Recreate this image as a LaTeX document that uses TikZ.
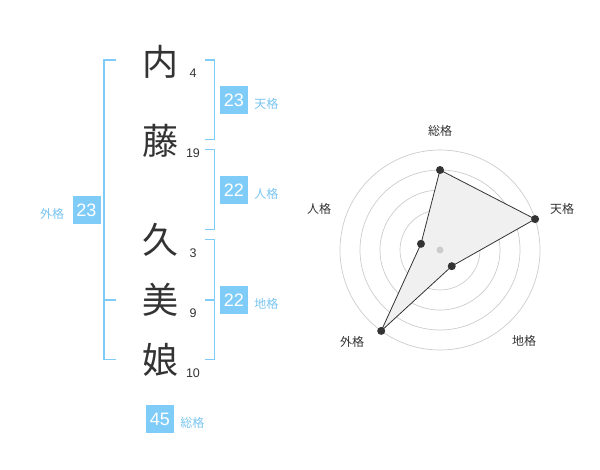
\documentclass[tikz,border=0pt]{standalone}
\usepackage{fontspec}
\setmainfont{Liberation Sans}
\newfontfamily\jp{Noto Sans CJK JP}
\usetikzlibrary{positioning,calc}
\definecolor{kakublue}{RGB}{128,204,248}
\definecolor{kakutext}{RGB}{120,196,240}
\definecolor{ink}{RGB}{51,51,51}
\definecolor{ring}{RGB}{204,204,204}
\definecolor{area}{RGB}{240,240,240}

\begin{document}
\begin{tikzpicture}[
		x=1pt,y=-1pt,
		kanji/.style={inner sep=0pt,text=ink,font=\jp\fontsize{36}{36}\selectfont},
		stroke/.style={inner sep=0pt,text=ink,font=\fontsize{12.5}{12.5}\selectfont},
		kakubox/.style={fill=kakublue,text=white,minimum size=28pt,inner sep=0pt,font=\fontsize{18}{18}\selectfont},
		kakulabel/.style={inner sep=0pt,yshift=-3.5pt,text=kakutext,font=\jp\fontsize{12}{12}\selectfont},
		bracket/.style={draw=kakublue,line width=1.8pt},
		axislabel/.style={inner sep=0pt,text=ink,font=\jp\fontsize{12}{12}\selectfont},
		dot/.style={circle,fill=ink,inner sep=0pt,minimum size=8pt}
		]
		\useasboundingbox (0,0) rectangle (600,470);
		% name
		\node[kanji] (k1) at (160,62) {内};
		\node[kanji] (k2) at (160,141) {藤};
		\node[kanji] (k3) at (160,240) {久};
		\node[kanji] (k4) at (160,300) {美};
		\node[kanji] (k5) at (160,360) {娘};
		\node[stroke] (s1) at (193,73) {4};
		\node[stroke] (s2) at (193,153) {19};
		\node[stroke] (s3) at (193,253) {3};
		\node[stroke] (s4) at (193,313) {9};
		\node[stroke] (s5) at (193,373) {10};
		% brackets
		\draw[bracket] (205,60) -- (214.5,60) -- (214.5,139.5) -- (205,139.5);
		\draw[bracket] (205,149.5) -- (214.5,149.5) -- (214.5,229.5) -- (205,229.5);
		\draw[bracket] (205,239.5) -- (214.5,239.5) -- (214.5,359.5) -- (205,359.5);
		\draw[bracket] (205,300) -- (214.5,300);
		\draw[bracket] (116,60) -- (104,60) -- (104,359.5) -- (116,359.5);
		\draw[bracket] (104,300) -- (116,300);
		% kaku
		\node[kakubox] (ten) at (234,100) {23};
		\node[kakulabel,right=6pt of ten] (tenl) {天格};
		\node[kakubox] (jin) at (234,190) {22};
		\node[kakulabel,right=6pt of jin] (jinl) {人格};
		\node[kakubox] (chi) at (234,300) {22};
		\node[kakulabel,right=6pt of chi] (chil) {地格};
		\node[kakubox] (gai) at (86.5,210) {23};
		\node[kakulabel,left=8pt of gai] (gail) {外格};
		\node[kakubox] (sou) at (160,419) {45};
		\node[kakulabel,right=6pt of sou] (soul) {総格};
		% radar
		\coordinate (c) at (440,250);
		\foreach \r in {20,40,60,80,100}
			\draw[ring,line width=0.7pt] (c) circle[radius=\r pt];
		\coordinate (psou) at ($(c)+(-90:80)$);
		\coordinate (pten) at ($(c)+(-18:100)$);
		\coordinate (pchi) at ($(c)+(54:20)$);
		\coordinate (pgai) at ($(c)+(126:100)$);
		\coordinate (pjin) at ($(c)+(198:20)$);
		\filldraw[fill=area,draw=ink,line width=0.8pt] (psou) -- (pten) -- (pchi) -- (pgai) -- (pjin) -- cycle;
		\node[circle,fill=ring,inner sep=0pt,minimum size=7pt] (mid) at (c) {};
		\foreach \p in {psou,pten,pchi,pgai,pjin}
			\node[dot] at (\p) {};
		\node[axislabel] (asou) at (440,131) {総格};
		\node[axislabel] (aten) at (562,209) {天格};
		\node[axislabel] (achi) at (524,341) {地格};
		\node[axislabel] (agai) at (352,342) {外格};
		\node[axislabel] (ajin) at (319,209) {人格};
	\end{tikzpicture}
\end{document}
